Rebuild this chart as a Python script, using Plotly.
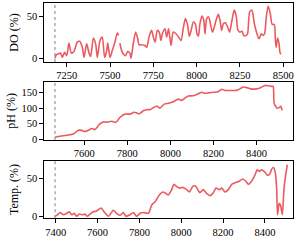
import plotly.graph_objects as go

# ---- DO (%) ----
do_x = [7182, 7190, 7200, 7215, 7225, 7238, 7250, 7263, 7277, 7292, 7311, 7325, 7340, 7350,
        7365, 7379, 7388, 7404, 7417, 7427, 7442, 7455, 7469, 7480, 7487, 7500, 7513, 7527,
        7542, 7550, None,
        7557, 7567, 7577, 7590, 7602, 7615, 7621, 7634, 7648, 7660, 7667, 7683, 7702, 7712,
        7725, 7740, 7750, 7760, 7773, 7784, 7794, 7802, 7817, 7827, 7838, 7852, 7865, 7881,
        7896, 7910, 7923, 7935, 7948, 7958, 7967, 7981, 7992, 8002, 8010, 8019, 8031, 8041,
        8048, 8058, 8069, 8083, 8092, 8112, 8125, 8135, 8144, 8154, 8165, 8179, 8190, 8204,
        8217, 8229, 8237, 8248, 8262, 8271, 8286, 8294, 8306, 8319, 8333, 8348, 8360, 8373,
        8383, 8392, 8402, 8413, 8425, 8436, 8448, 8454, 8459, 8467, 8475, 8482, 8488]
do_y = [0, 4, 5, 6, 1, 7, 3, 18, 6, 8, 19, 20, 13, 1,
        17, 6, 2, 24, 17, 1, 21, 25, 1, 8, 18, 1, 9, 18,
        30, 27, None,
        18, 9, 5, 3, 8, 6, 0, 17, 31, 23, 16, 16, 15, 13,
        25, 33, 25, 19, 33, 31, 21, 29, 35, 25, 35, 15, 31, 29,
        25, 21, 36, 47, 39, 26, 32, 43, 41, 29, 26, 41, 50, 45,
        29, 47, 49, 37, 31, 45, 52, 45, 33, 41, 42, 37, 31, 45,
        57, 49, 34, 31, 32, 27, 27, 29, 55, 57, 41, 29, 23, 29,
        27, 29, 49, 62, 53, 40, 40, 23, 13, 24, 18, 6, 5]

# ---- pH (%) ----
ph_x = [7464, 7487, 7518, 7534, 7549, 7572, 7588, 7603, 7619, 7634, 7650, 7670, 7688, 7707,
        7727, 7747, 7766, 7789, 7812, 7831, 7843, 7855, 7874, 7890, 7908, 7928, 7939, 7951,
        7971, 7990, 8013, 8036, 8052, 8067, 8083, 8106, 8129, 8145, 8156, 8176, 8199, 8222,
        8238, 8253, 8276, 8300, 8315, 8338, 8354, 8372, 8400, 8416, 8439, 8454, 8470, 8477,
        8481, 8487, 8496, 8505, 8512, 8519]
ph_y = [7, 10, 13, 15, 17, 29, 29, 25, 29, 35, 32, 48, 56, 55,
        58, 55, 71, 81, 81, 87, 85, 82, 92, 95, 96, 105, 106, 100,
        113, 116, 121, 129, 125, 132, 139, 140, 146, 151, 148, 149, 151, 153,
        161, 157, 157, 157, 159, 168, 166, 162, 162, 165, 173, 172, 170, 170,
        117, 107, 100, 102, 106, 93]

# ---- Temp. (%) ----
tp_x = [7397, 7408, 7421, 7437, 7453, 7465, 7476, 7488, 7500, 7513, 7529, 7540, 7551, 7564,
        7580, 7596, 7617, 7631, 7652, 7675, 7691, 7707, 7723, 7736, 7755, 7771, 7787, 7803,
        7819, 7843, 7859, 7875, 7895, 7911, 7927, 7938, 7954, 7965, 7978, 7994, 8007, 8026,
        8039, 8054, 8066, 8077, 8089, 8105, 8121, 8137, 8153, 8166, 8182, 8193, 8209, 8225,
        8241, 8257, 8277, 8293, 8309, 8320, 8336, 8352, 8363, 8373, 8384, 8400, 8411, 8424,
        8432, 8440, 8449, 8456, 8460, 8468, 8475, 8483, 8491, 8500, 8507]
tp_y = [0, 2, 5, 2, 4, 6, 2, 4, 0, 3, 2, 3, 0, 3,
        6, 7, 11, 6, 0, 8, 4, 1, 5, 0, 2, 5, 0, 4,
        5, 4, 15, 19, 28, 32, 30, 28, 35, 42, 39, 37, 38, 35,
        32, 39, 40, 36, 31, 35, 30, 27, 31, 37, 35, 37, 32, 35,
        42, 44, 46, 49, 46, 42, 46, 54, 61, 59, 61, 58, 54, 56,
        62, 64, 58, 36, 2, 17, 14, 2, 36, 56, 68]

vlines = [7182, 7464, 7397]

RED = "#eb5a60"
FONT = "Liberation Serif"

fig = go.Figure()
fig.add_trace(go.Scatter(x=do_x, y=do_y, mode="lines", line=dict(color=RED, width=1.6, shape="spline", smoothing=0.7),
                         xaxis="x", yaxis="y", connectgaps=False, showlegend=False))
fig.add_trace(go.Scatter(x=ph_x, y=ph_y, mode="lines", line=dict(color=RED, width=1.6, shape="spline", smoothing=0.6),
                         xaxis="x2", yaxis="y2", showlegend=False))
fig.add_trace(go.Scatter(x=tp_x, y=tp_y, mode="lines", line=dict(color=RED, width=1.6, shape="spline", smoothing=0.6),
                         xaxis="x3", yaxis="y3", showlegend=False))

xd = [44 / 300, 293 / 300]
doms = [[1 - 62 / 240, 1 - 3 / 240], [1 - 140 / 240, 1 - 81.7 / 240], [1 - 218.3 / 240, 1 - 160.7 / 240]]

common = dict(showline=True, linecolor="black", linewidth=1.2, mirror=True, ticks="outside",
              ticklen=3.5, tickwidth=0.8, tickcolor="black", showgrid=False, zeroline=False,
              tickfont=dict(family=FONT, size=10.5, color="black"), automargin=False)
tfont = dict(family=FONT, size=12, color="black")

fig.update_layout(
    width=300, height=240, margin=dict(l=0, r=0, t=0, b=0),
    paper_bgcolor="white", plot_bgcolor="white",
    xaxis=dict(domain=xd, anchor="y", range=[7119, 8556], tickvals=[7250, 7500, 7750, 8000, 8250, 8500], **common),
    yaxis=dict(domain=doms[0], anchor="x", range=[-4.5, 65.5], tickvals=[0, 50],
               title=dict(text="DO (%)", font=tfont, standoff=5), **common),
    xaxis2=dict(domain=xd, anchor="y2", range=[7413, 8569], tickvals=[7600, 7800, 8000, 8200, 8400], **common),
    yaxis2=dict(domain=doms[1], anchor="x2", range=[-2, 185], tickvals=[0, 50, 100, 150],
                title=dict(text="pH (%)", font=tfont, standoff=3), **common),
    xaxis3=dict(domain=xd, anchor="y3", range=[7344, 8534], tickvals=[7400, 7600, 7800, 8000, 8200, 8400], **common),
    yaxis3=dict(domain=doms[2], anchor="x3", range=[-2.6, 73], tickvals=[0, 50],
                title=dict(text="Temp. (%)", font=tfont, standoff=5), **common),
)

for i, xv in enumerate(vlines):
    suffix = "" if i == 0 else str(i + 1)
    fig.add_shape(type="line", xref="x" + suffix, yref="y" + suffix + " domain", x0=xv, x1=xv, y0=0, y1=1,
                  line=dict(color="#aaaaaa", width=1.5, dash="dot"), layer="below")

fig.write_html("out.html", config={"displayModeBar": False})

# remove the default page margin so the 300x240 figure fills the window exactly
with open("out.html", "r", encoding="utf-8") as f:
    html = f.read()
html = html.replace("<head>", "<head><style>html,body{margin:0;padding:0;overflow:hidden;}</style>", 1)
with open("out.html", "w", encoding="utf-8") as f:
    f.write(html)
